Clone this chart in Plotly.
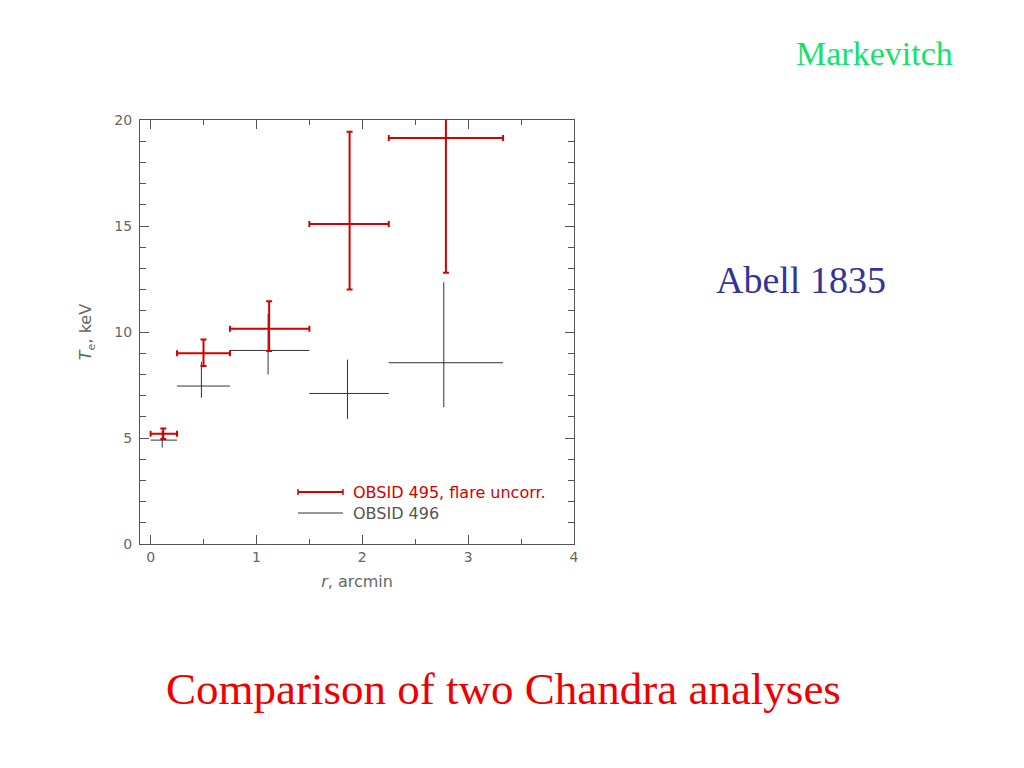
import plotly.graph_objects as go

# ---- data ----
bin_lo = [0.0, 0.25, 0.75, 1.5, 2.25]
bin_hi = [0.25, 0.75, 1.5, 2.25, 3.33]

red_x = [0.12, 0.5, 1.12, 1.88, 2.79]
red_y = [5.2, 9.0, 10.15, 15.1, 19.15]
red_y_lo = [4.95, 8.4, 9.1, 12.0, 12.8]
red_y_hi = [5.45, 9.65, 11.45, 19.45, 20.6]

blk_x = [0.11, 0.48, 1.11, 1.86, 2.77]
blk_y = [4.9, 7.45, 9.13, 7.1, 8.55]
blk_y_lo = [4.55, 6.9, 8.0, 5.9, 6.45]
blk_y_hi = [5.35, 8.6, 10.85, 8.7, 12.35]

red_name = "OBSID 495, flare uncorr."
blk_name = "OBSID 496"

RED = "#d40000"
BLK = "#333333"
AX = "#555555"
OFF = 7  # page body offset


def errs(c, lo, hi):
    return [h - v for v, h in zip(c, hi)], [v - l for v, l in zip(c, lo)]


fig = go.Figure()

bx_p, bx_m = errs(blk_x, bin_lo, bin_hi)
by_p, by_m = errs(blk_y, blk_y_lo, blk_y_hi)
fig.add_trace(go.Scatter(
    x=blk_x, y=blk_y, mode="markers", name=blk_name, showlegend=False,
    marker=dict(size=1, color=BLK),
    error_x=dict(type="data", array=bx_p, arrayminus=bx_m, color=BLK, thickness=1, width=0),
    error_y=dict(type="data", array=by_p, arrayminus=by_m, color=BLK, thickness=1, width=0),
    cliponaxis=True,
))

rx_p, rx_m = errs(red_x, bin_lo, bin_hi)
ry_p, ry_m = errs(red_y, red_y_lo, red_y_hi)
fig.add_trace(go.Scatter(
    x=red_x, y=red_y, mode="markers", name=red_name, showlegend=False,
    marker=dict(size=2, color=RED),
    error_x=dict(type="data", array=rx_p, arrayminus=rx_m, color=RED, thickness=2, width=3),
    error_y=dict(type="data", array=ry_p, arrayminus=ry_m, color=RED, thickness=2, width=3),
    cliponaxis=True,
))

tickfont = dict(family="DejaVu Sans", size=14, color="#666666")
titlefont = dict(family="DejaVu Sans", size=16, color="#666666")

fig.update_xaxes(
    range=[-0.1, 4], dtick=1, tick0=0, showgrid=False, zeroline=False,
    showline=True, linecolor=AX, linewidth=1, mirror="ticks",
    ticks="inside", ticklen=9, tickcolor=AX,
    minor=dict(dtick=0.5, ticks="inside", ticklen=5, tickcolor=AX),
    tickfont=tickfont,
    title=dict(text="<i>r</i>, arcmin", font=titlefont, standoff=12),
)
fig.update_yaxes(
    range=[0, 20], dtick=5, tick0=0, showgrid=False, zeroline=False,
    showline=True, linecolor=AX, linewidth=1, mirror="ticks",
    ticks="inside", ticklen=9, tickcolor=AX,
    minor=dict(dtick=1, ticks="inside", ticklen=6, tickcolor=AX),
    tickfont=tickfont, ticklabelstandoff=4,
    title=dict(text="<i>T</i><sub>e</sub>, keV", font=titlefont, standoff=18),
)

# legend drawn manually (pixel positions relative to the plot frame)
L, W, B, H = 139, 434, 543, 424
px = lambda v: (v - L) / W
py = lambda v: (B - v) / H

shapes = [
    dict(type="line", xref="paper", yref="paper", x0=px(297), x1=px(342), y0=py(491), y1=py(491),
         line=dict(color=RED, width=2)),
    dict(type="line", xref="paper", yref="paper", x0=px(297), x1=px(297), y0=py(488), y1=py(494),
         line=dict(color=RED, width=1.5)),
    dict(type="line", xref="paper", yref="paper", x0=px(342), x1=px(342), y0=py(488), y1=py(494),
         line=dict(color=RED, width=1.5)),
    dict(type="line", xref="paper", yref="paper", x0=px(297), x1=px(342), y0=py(512), y1=py(512),
         line=dict(color=BLK, width=1)),
]

annotations = [
    dict(text=red_name, xref="paper", yref="paper", x=px(350), y=py(491), xanchor="left", yanchor="middle",
         showarrow=False, font=dict(family="DejaVu Sans", size=16, color=RED)),
    dict(text=blk_name, xref="paper", yref="paper", x=px(350), y=py(512), xanchor="left", yanchor="middle",
         showarrow=False, font=dict(family="DejaVu Sans", size=16, color="#555555")),
    dict(text="Markevitch", xref="paper", yref="paper", x=px(873), y=py(52), xanchor="center", yanchor="middle",
         showarrow=False, font=dict(family="Liberation Serif", size=34, color="#11e36a")),
    dict(text="Abell 1835", xref="paper", yref="paper", x=px(800), y=py(279), xanchor="center", yanchor="middle",
         showarrow=False, font=dict(family="Liberation Serif", size=38, color="#333399")),
    dict(text="Comparison of two Chandra analyses", xref="paper", yref="paper", x=px(502), y=py(688),
         xanchor="center", yanchor="middle",
         showarrow=False, font=dict(family="Liberation Serif", size=45, color="#ee0000")),
]

fig.update_layout(
    width=1024, height=768, autosize=False,
    margin=dict(l=L - OFF, r=1024 - (L + W) + OFF, t=(B - H) - OFF, b=768 - B + OFF, pad=0),
    paper_bgcolor="white", plot_bgcolor="white",
    shapes=shapes, annotations=annotations, showlegend=False,
)

fig.write_html("out.html")
